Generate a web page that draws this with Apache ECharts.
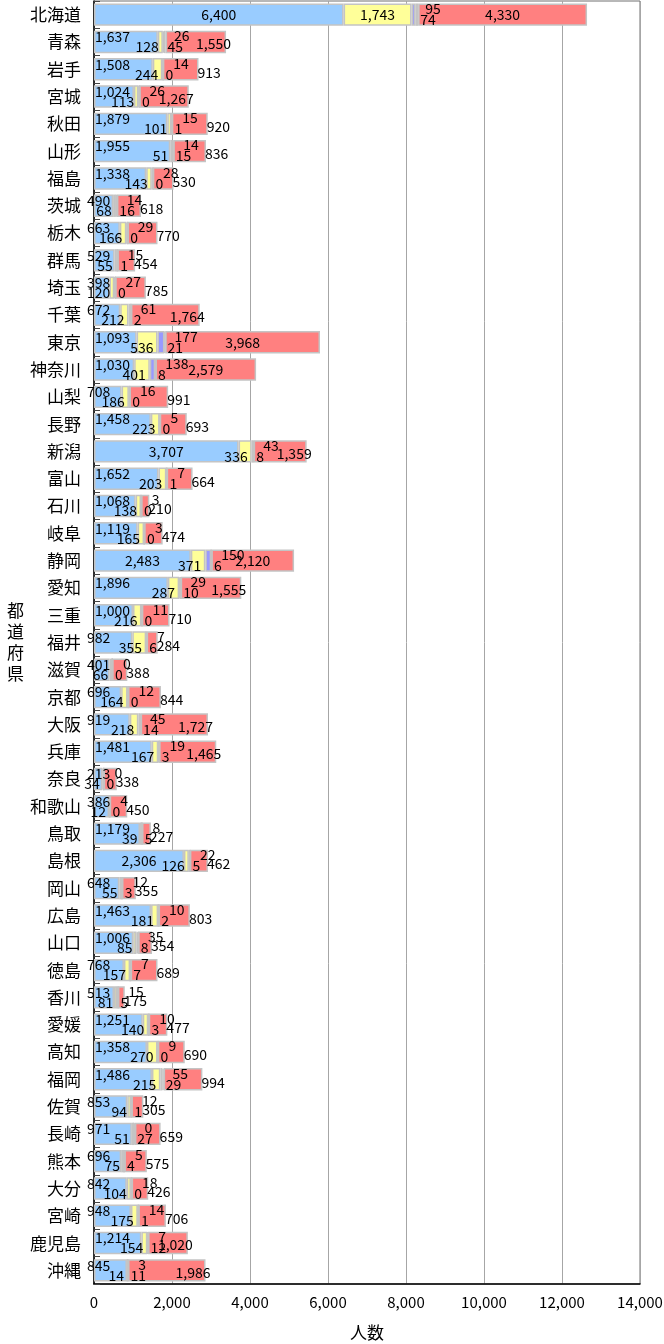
<!DOCTYPE html>
<html><head><meta charset="utf-8">
<script src="https://cdn.jsdelivr.net/npm/echarts@6/dist/echarts.min.js"></script>
<style>html,body{margin:0;padding:0;background:#fff}#c{width:664px;height:1344px}</style>
</head><body><div id="c"></div>
<script>
const prefectures = ['北海道','青森','岩手','宮城','秋田','山形','福島','茨城','栃木','群馬','埼玉','千葉','東京','神奈川','山梨','長野','新潟','富山','石川','岐阜','静岡','愛知','三重','福井','滋賀','京都','大阪','兵庫','奈良','和歌山','鳥取','島根','岡山','広島','山口','徳島','香川','愛媛','高知','福岡','佐賀','長崎','熊本','大分','宮崎','鹿児島','沖縄'];
const seriesA = [6400,1637,1508,1024,1879,1955,1338,490,663,529,398,672,1093,1030,708,1458,3707,1652,1068,1119,2483,1896,1000,982,401,696,919,1481,213,386,1179,2306,648,1463,1006,768,513,1251,1358,1486,853,971,696,842,948,1214,845];
const seriesB = [1743,128,244,113,101,51,143,68,166,55,120,212,536,401,186,223,336,203,138,165,371,287,216,355,66,164,218,167,34,12,39,126,55,181,85,157,81,140,270,215,94,51,75,104,175,154,14];
const seriesC = [95,26,14,26,15,14,28,14,29,15,27,61,177,138,16,5,43,7,3,3,150,29,11,7,0,12,45,19,0,4,8,22,12,10,35,7,15,10,9,55,12,0,5,18,14,7,3];
const seriesD = [74,45,0,0,1,15,0,16,0,1,0,2,21,8,0,0,8,1,0,0,6,10,0,6,0,0,14,3,0,0,5,5,3,2,8,7,5,3,0,29,1,27,4,0,1,12,11];
const seriesE = [4330,1550,913,1267,920,836,530,618,770,454,785,1764,3968,2579,991,693,1359,664,210,474,2120,1555,710,284,388,844,1727,1465,338,450,227,462,355,803,354,689,175,477,690,994,305,659,575,426,706,1020,1986];
const xTickValues = [0,2000,4000,6000,8000,10000,12000,14000];

const NUMFONT = "'Noto Sans CJK JP','Liberation Sans',sans-serif";
const JPFONT = "'Noto Sans CJK JP',sans-serif";
const fmt = v => Number(v).toLocaleString('en-US');
const baseLabel = {show:true, fontFamily:NUMFONT, fontSize:14, color:'#000', formatter: p => fmt(p.value)};

function labelA(v){
  if (v >= 2000) return {position:'inside', offset:[0,0]};
  if (v >= 1000) return {position:'insideLeft', distance:1, offset:[0,-5]};
  return {position:'insideLeft', distance:0, offset:[-7,-5]};
}
function labelB(v){
  if (v >= 1000) return {position:'inside', offset:[0,0]};
  return {position:'insideRight', distance:4, offset:[0,5]};
}
function labelE(v){
  if (v >= 2000) return {position:'inside', offset:[0,0]};
  if (v >= 1000) return {position:'insideRight', distance:0, offset:[5,2]};
  return {position:'right', distance:-1, offset:[0,3]};
}
const mk = (vals, rule) => vals.map(v => ({value:v, label: rule(v)}));

const border = {borderColor:'#C4C4C4', borderWidth:1.5};
function bar(name, data, color, label){
  return {name, type:'bar', stack:'total', barWidth:'82%', data,
    itemStyle:Object.assign({color}, border),
    label:Object.assign({}, baseLabel, label||{}), emphasis:{disabled:true}, animation:false};
}

const chart = echarts.init(document.getElementById('c'), null, {renderer:'canvas'});
chart.setOption({
  animation:false,
  grid:{left:94, right:24, top:1, bottom:60, show:true, borderColor:'#707070', borderWidth:1, outerBoundsMode:'none'},
  xAxis:{type:'value', min:0, max:14000, interval:2000,
    axisLine:{show:true, lineStyle:{color:'#000', width:1.5}},
    axisTick:{show:false},
    splitLine:{show:true, lineStyle:{color:'#A6A6A6', width:1}},
    axisLabel:{fontFamily:NUMFONT, fontSize:15, color:'#000', margin:11, formatter: v => fmt(v)},
    name:'人数', nameLocation:'middle', nameGap:40,
    nameTextStyle:{fontFamily:JPFONT, fontSize:17, color:'#000'}},
  yAxis:{type:'category', data:prefectures, inverse:true,
    axisLine:{show:true, lineStyle:{color:'#000', width:1.5}},
    axisTick:{show:true, inside:true, length:6, lineStyle:{color:'#444'}},
    axisLabel:{fontFamily:JPFONT, fontSize:17, color:'#000', margin:13},
    name:'都\n道\n府\n県', nameLocation:'middle', nameRotate:0, nameGap:70,
    nameTextStyle:{fontFamily:JPFONT, fontSize:17, color:'#000', lineHeight:21}},
  series:[
    bar('A', mk(seriesA, labelA), '#99CCFF'),
    bar('B', mk(seriesB, labelB), '#FFFF99'),
    bar('C', seriesC, '#9999FF', {position:'right', distance:10, offset:[0,-6]}),
    bar('D', seriesD, '#CCCCFF', {position:'right', distance:2, offset:[0,5]}),
    bar('E', mk(seriesE, labelE), '#FF8080')
  ]
});
</script></body></html>
